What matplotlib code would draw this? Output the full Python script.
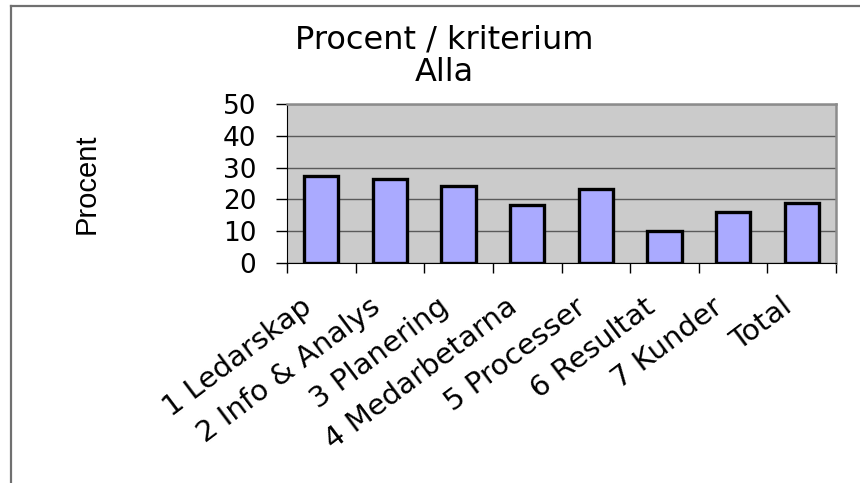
import matplotlib
matplotlib.use("Agg")
import matplotlib.pyplot as plt
from matplotlib.lines import Line2D
from matplotlib.transforms import ScaledTranslation
import numpy as np

# procent per kriterium, alla enheter
kriterier = ["1 Ledarskap", "2 Info & Analys", "3 Planering", "4 Medarbetarna",
             "5 Processer", "6 Resultat", "7 Kunder", "Total"]
procent = [27.3, 26.5, 24.3, 18.1, 23.2, 10.0, 15.9, 19.0]
yticks = [0, 10, 20, 30, 40, 50]

plt.rcParams["font.family"] = ["DejaVu Sans"]

fig = plt.figure(figsize=(8.6, 4.83), dpi=100)
ax = fig.add_axes([287/860, 1 - 263/483, 549/860, 159/483])

x = np.arange(len(kriterier))
ax.set_facecolor("#cbcbcb")
ax.bar(x, procent, width=0.5, color="#aaaaff", edgecolor="black",
       linewidth=2.4, zorder=3)

ax.set_xlim(-0.5, len(kriterier) - 0.5)
ax.set_ylim(0, 50)
ax.set_yticks(yticks)
ax.set_yticklabels([str(v) for v in yticks], fontsize=19)
ax.yaxis.grid(True, color="#5a5a5a", linewidth=1.0, zorder=1)

# ticks between categories, labels drawn separately
ax.set_xticks(np.arange(len(kriterier) + 1) - 0.5)
ax.set_xticklabels([])
ax.tick_params(axis="x", length=7, width=1, color="black")
ax.tick_params(axis="y", length=8, width=1, color="black", pad=14)

for side in ["top", "right"]:
    ax.spines[side].set_color("#8c8c8c")
    ax.spines[side].set_linewidth(1.8)
ax.spines["left"].set_color("black")
ax.spines["bottom"].set_color("black")

off = ScaledTranslation(-13/100, -41/100, fig.dpi_scale_trans)
for i, lab in enumerate(kriterier):
    ax.text(i, 0, lab, transform=ax.get_xaxis_transform() + off,
            rotation=37, rotation_mode="anchor", ha="right", va="center",
            fontsize=21)

fig.text(444/860, 1 - 24/483, "Procent / kriterium\nAlla", ha="center",
         va="top", fontsize=23, linespacing=1.1)
fig.text(87/860, 1 - 184/483, "Procent", rotation=90, ha="center",
         va="center", fontsize=21, family=["Liberation Sans", "DejaVu Sans"])

# ram runt diagrammet
fig.add_artist(Line2D([11/860, 11/860], [0, 1 - 6/483], color="#707070",
                      linewidth=1.6, transform=fig.transFigure))
fig.add_artist(Line2D([11/860, 1], [1 - 6/483, 1 - 6/483], color="#707070",
                      linewidth=1.6, transform=fig.transFigure))

fig.savefig("out.png", dpi=100)
